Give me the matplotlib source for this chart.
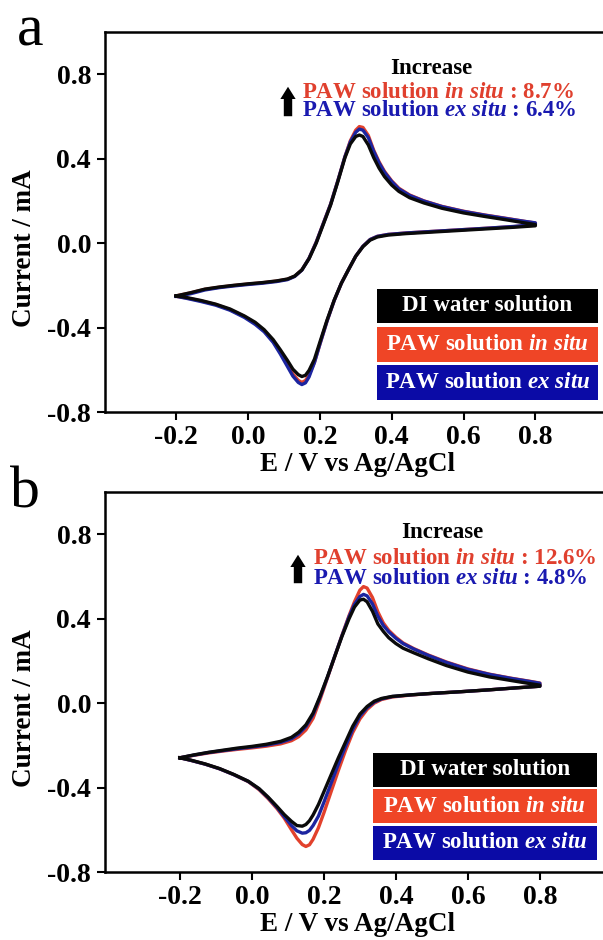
import numpy as np
import matplotlib
matplotlib.use('Agg')
import matplotlib.pyplot as plt
from matplotlib.patches import Rectangle, FancyArrowPatch
from matplotlib.ticker import FormatStrFormatter

plt.rcParams['font.family'] = ['Liberation Serif', 'DejaVu Serif']
plt.rcParams['font.weight'] = 'bold'
plt.rcParams['axes.unicode_minus'] = False
plt.rcParams['mathtext.fontset'] = 'custom'
plt.rcParams['mathtext.rm'] = 'Liberation Serif:bold'
plt.rcParams['mathtext.it'] = 'Liberation Serif:bold:italic'
plt.rcParams['mathtext.bf'] = 'Liberation Serif:bold'

# potential grids (V vs Ag/AgCl), forward and reverse sweep
E_fwd = [-0.20, -0.16, -0.12, -0.08, -0.04, 0.0, 0.04, 0.08, 0.11, 0.13, 0.15, 0.17, 0.19, 0.21, 0.23, 0.25,
         0.27, 0.285, 0.30, 0.31, 0.32, 0.335, 0.35, 0.365, 0.38, 0.40, 0.42, 0.45, 0.49, 0.54, 0.60, 0.66, 0.72, 0.77, 0.80]
E_rev = [0.80, 0.74, 0.66, 0.58, 0.50, 0.44, 0.39, 0.36, 0.34, 0.32, 0.30, 0.28, 0.26, 0.24, 0.22, 0.20,
         0.185, 0.17, 0.16, 0.15, 0.14, 0.125, 0.11, 0.09, 0.07, 0.045, 0.02, -0.01, -0.05, -0.09, -0.13, -0.17, -0.20]

# panel a currents (mA)
a_di_fwd = [-0.25, -0.235, -0.218, -0.208, -0.2, -0.193, -0.187, -0.179, -0.17, -0.156, -0.127, -0.074, 0.0, 0.09, 0.18, 0.29,
            0.405, 0.47, 0.505, 0.512, 0.505, 0.465, 0.405, 0.355, 0.315, 0.275, 0.245, 0.215, 0.19, 0.165, 0.143, 0.126, 0.11, 0.096, 0.088]
a_di_rev = [0.082, 0.075, 0.067, 0.059, 0.051, 0.045, 0.038, 0.029, 0.014, -0.017, -0.062, -0.125, -0.19, -0.27, -0.365, -0.47,
            -0.55, -0.603, -0.626, -0.632, -0.623, -0.597, -0.556, -0.505, -0.457, -0.41, -0.375, -0.345, -0.312, -0.289, -0.272, -0.258, -0.25]
a_in_fwd = [-0.25, -0.236, -0.219, -0.209, -0.201, -0.194, -0.188, -0.18, -0.171, -0.157, -0.127, -0.072, 0.005, 0.095, 0.185, 0.295,
            0.41, 0.485, 0.535, 0.552, 0.548, 0.51, 0.44, 0.385, 0.34, 0.295, 0.26, 0.228, 0.2, 0.174, 0.151, 0.133, 0.117, 0.103, 0.095]
a_in_rev = [0.085, 0.078, 0.07, 0.062, 0.054, 0.048, 0.041, 0.032, 0.017, -0.015, -0.062, -0.125, -0.19, -0.272, -0.37, -0.48,
            -0.565, -0.624, -0.651, -0.66, -0.65, -0.62, -0.575, -0.515, -0.465, -0.415, -0.38, -0.348, -0.315, -0.291, -0.274, -0.26, -0.252]
a_ex_fwd = [-0.252, -0.24, -0.222, -0.211, -0.203, -0.196, -0.19, -0.182, -0.173, -0.158, -0.128, -0.072, 0.004, 0.094, 0.184, 0.294,
            0.41, 0.48, 0.525, 0.54, 0.535, 0.5, 0.435, 0.38, 0.336, 0.292, 0.257, 0.226, 0.199, 0.173, 0.15, 0.132, 0.116, 0.103, 0.096]
a_ex_rev = [0.088, 0.079, 0.07, 0.062, 0.054, 0.048, 0.041, 0.032, 0.017, -0.015, -0.062, -0.125, -0.19, -0.272, -0.37, -0.48,
            -0.566, -0.634, -0.662, -0.67, -0.66, -0.63, -0.585, -0.525, -0.47, -0.42, -0.385, -0.352, -0.318, -0.294, -0.277, -0.262, -0.252]

# panel b currents (mA)
b_di_fwd = [-0.259, -0.245, -0.233, -0.223, -0.213, -0.205, -0.195, -0.181, -0.162, -0.138, -0.103, -0.047, 0.035, 0.125, 0.22, 0.315,
            0.4, 0.455, 0.488, 0.492, 0.48, 0.435, 0.375, 0.34, 0.31, 0.282, 0.26, 0.238, 0.21, 0.178, 0.147, 0.124, 0.107, 0.093, 0.085]
b_di_rev = [0.08, 0.073, 0.063, 0.054, 0.046, 0.039, 0.032, 0.022, 0.009, -0.016, -0.052, -0.11, -0.185, -0.26, -0.34, -0.42,
            -0.48, -0.53, -0.557, -0.575, -0.583, -0.58, -0.56, -0.528, -0.49, -0.445, -0.405, -0.37, -0.338, -0.31, -0.288, -0.27, -0.259]
b_in_fwd = [-0.259, -0.247, -0.236, -0.227, -0.219, -0.212, -0.204, -0.193, -0.178, -0.159, -0.127, -0.072, 0.02, 0.12, 0.22, 0.32,
            0.415, 0.48, 0.535, 0.552, 0.545, 0.5, 0.432, 0.38, 0.345, 0.312, 0.285, 0.258, 0.228, 0.195, 0.162, 0.137, 0.118, 0.104, 0.095]
b_in_rev = [0.08, 0.073, 0.063, 0.054, 0.046, 0.038, 0.029, 0.017, 0.0, -0.03, -0.075, -0.14, -0.225, -0.32, -0.42, -0.52,
            -0.59, -0.645, -0.671, -0.679, -0.67, -0.64, -0.6, -0.545, -0.5, -0.452, -0.41, -0.372, -0.339, -0.311, -0.289, -0.271, -0.259]
b_ex_fwd = [-0.259, -0.246, -0.234, -0.225, -0.216, -0.208, -0.199, -0.186, -0.169, -0.146, -0.111, -0.054, 0.03, 0.123, 0.222, 0.318,
            0.41, 0.468, 0.505, 0.515, 0.508, 0.47, 0.412, 0.368, 0.338, 0.307, 0.282, 0.256, 0.226, 0.193, 0.16, 0.136, 0.117, 0.103, 0.094]
b_ex_rev = [0.08, 0.073, 0.063, 0.054, 0.046, 0.039, 0.031, 0.02, 0.005, -0.022, -0.062, -0.125, -0.205, -0.29, -0.38, -0.47,
            -0.535, -0.58, -0.603, -0.614, -0.616, -0.605, -0.58, -0.538, -0.495, -0.448, -0.407, -0.371, -0.339, -0.311, -0.289, -0.271, -0.259]

legend_labels = ['DI water solution', r'PAW solution $in\ situ$', r'PAW solution $ex\ situ$']
increase_a = ['8.7%', '6.4%']
increase_b = ['12.6%', '4.8%']

c_black = '#0a0a0a'
c_red = '#e2412c'
c_blue = '#1c25a0'
box_cols = ['#000000', '#ef4526', '#0b0ba6']
txt_red = '#e0402e'
txt_blue = '#1a1ab0'

W, H = 603, 940
fig = plt.figure(figsize=(W / 100, H / 100), dpi=100)


def fx(px):
    return px / W


def fy(py):
    return 1 - py / H


def panel(top, xlim, data, inc, txt_pos, box_y, box_x, letter, letter_xy):
    ax = fig.add_axes([fx(105), fy(top + 380), 504 / W, 380 / H])
    (di_f, di_r), (in_f, in_r), (ex_f, ex_r) = data
    ax.plot(E_fwd + E_rev, in_f + in_r, color=c_red, lw=2.4, zorder=2, solid_joinstyle='round')
    ax.plot(E_fwd + E_rev, ex_f + ex_r, color=c_blue, lw=2.4, zorder=3, solid_joinstyle='round')
    ax.plot(E_fwd + E_rev, di_f + di_r, color=c_black, lw=2.4, zorder=4, solid_joinstyle='round')
    ax.set_xlim(*xlim)
    ax.set_ylim(-0.8, 1.0)
    ax.set_xticks([-0.2, 0.0, 0.2, 0.4, 0.6, 0.8])
    ax.set_yticks([-0.8, -0.4, 0.0, 0.4, 0.8])
    ax.xaxis.set_major_formatter(FormatStrFormatter('%.1f'))
    ax.yaxis.set_major_formatter(FormatStrFormatter('%.1f'))
    ax.tick_params(direction='out', length=6, width=1.5, labelsize=20, top=False, right=False)
    ax.tick_params(axis='x', pad=3)
    ax.tick_params(axis='y', pad=4)
    for s in ax.spines.values():
        s.set_linewidth(1.8)
    ax.set_xlabel('E / V vs Ag/AgCl', fontsize=19.5, fontweight='bold')
    ax.set_ylabel('Current / mA', fontsize=19.5, fontweight='bold')
    ax.xaxis.set_label_coords(0.5, -0.105)
    ax.yaxis.set_label_coords(-0.135, 0.43)

    # legend boxes
    for i, (lab, col) in enumerate(zip(legend_labels, box_cols)):
        y0, y1 = box_y[i]
        ax.add_patch(Rectangle((box_x[0], y0), box_x[1] - box_x[0], y1 - y0, transform=ax.transAxes,
                               facecolor=col, edgecolor='none', zorder=5))
        ax.text((box_x[0] + box_x[1]) / 2, (y0 + y1) / 2, lab, transform=ax.transAxes, color='white',
                fontsize=16.5, fontweight='bold', ha='center', va='center', zorder=6)

    # increase annotation
    cx, cy, lx, ry, by, arx, ar0, ar1 = txt_pos
    fig.text(fx(cx), fy(cy), 'Increase', fontsize=16.5, ha='center', va='center', color='black')
    fig.text(fx(lx), fy(ry), r'PAW solution $in\ situ$ : ' + inc[0], fontsize=16.5, ha='left', va='center', color=txt_red)
    fig.text(fx(lx), fy(by), r'PAW solution $ex\ situ$ : ' + inc[1], fontsize=16.5, ha='left', va='center', color=txt_blue)
    fig.add_artist(FancyArrowPatch((fx(arx), fy(ar1)), (fx(arx), fy(ar0)), transform=fig.transFigure,
                                   arrowstyle='simple,head_width=1.0,head_length=0.8,tail_width=0.55',
                                   mutation_scale=11, color='black', lw=0))
    fig.text(fx(letter_xy[0]), fy(letter_xy[1]), letter, fontsize=43, fontweight='normal', ha='left', va='baseline')
    return ax


panel(32, (-0.398, 1.005), [(a_di_fwd, a_di_rev), (a_in_fwd, a_in_rev), (a_ex_fwd, a_ex_rev)], increase_a,
      (431, 68, 302, 92, 111, 288, 84, 119),
      [(0.234, 0.324), (0.132, 0.224), (0.032, 0.124)], (0.539, 0.978), 'a', (17, 46))
panel(492, (-0.408, 0.992), [(b_di_fwd, b_di_rev), (b_in_fwd, b_in_rev), (b_ex_fwd, b_ex_rev)], increase_b,
      (442, 533, 313, 558, 578, 298, 552, 586),
      [(0.224, 0.313), (0.129, 0.218), (0.032, 0.121)], (0.531, 0.976), 'b', (10, 507))

fig.savefig('out.png', dpi=100)
